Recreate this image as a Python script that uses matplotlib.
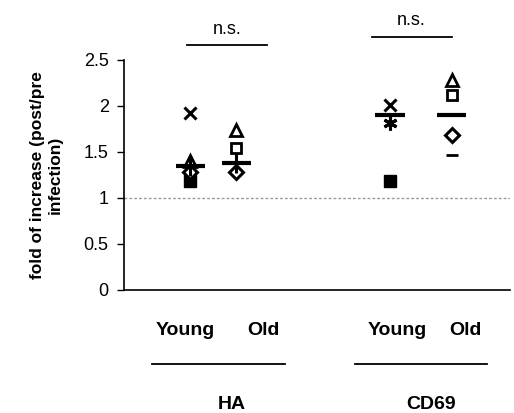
import matplotlib
matplotlib.use("Agg")
import matplotlib.pyplot as plt

plt.rcParams['font.family'] = ['Liberation Sans', 'DejaVu Sans']

# ---- data ----
groups = ["HA Young", "HA Old", "CD69 Young", "CD69 Old"]
group_x = [1.0, 1.6, 3.6, 4.4]
cross_vals = [1.92, None, 2.01, None]
triangle_vals = [1.40, 1.74, None, 2.28]
square_vals = [1.18, 1.54, 1.19, 2.12]
diamond_vals = [1.28, 1.28, None, 1.68]
plus_vals = [1.35, 1.38, None, None]
star_vals = [None, None, 1.81, None]
minus_vals = [None, None, None, 1.47]
mean_vals = [1.35, 1.38, 1.90, 1.90]
yticks = [0, 0.5, 1, 1.5, 2, 2.5]
ytick_labels = ["0", "0.5", "1", "1.5", "2", "2.5"]
sub_labels = ["Young", "Old", "Young", "Old"]
sub_label_x = [0.935, 1.95, 3.69, 4.58]
main_labels = ["HA", "CD69"]
main_label_x = [1.545, 4.13]
ylabel = "fold of increase (post/pre\ninfection)"

fig = plt.figure(figsize=(5.14, 4.13), dpi=100)
ax = fig.add_axes([124/514, 1-290/413, (510-124)/514, (290-60)/413])

ax.set_xlim(0.14, 5.16)
ax.set_ylim(0, 2.5)

# reference line at 1
ax.axhline(1.0, color='#9a9a9a', lw=1.0, ls=(0, (2, 1.5)), zorder=1)

def scatter(vals, marker, size, fill='none', mew=2.0):
    for x, v in zip(group_x, vals):
        if v is None:
            continue
        ax.plot([x], [v], marker=marker, ms=size, mfc=fill, mec='black',
                mew=mew, ls='none', zorder=3)

scatter(cross_vals, 'x', 8, mew=2.2)
scatter(triangle_vals, '^', 8, fill='white', mew=2.0)
scatter(square_vals, 's', 7, fill='white', mew=2.0)
# filled square for young groups
for i in (0, 2):
    ax.plot([group_x[i]], [square_vals[i]], marker='s', ms=8, mfc='black',
            mec='black', ls='none', zorder=3)
scatter(diamond_vals, 'D', 7, fill='white', mew=2.2)
scatter(plus_vals, '|', 14, mew=2.2)
scatter(star_vals, (6, 2, 0), 10, mew=2.2)
scatter(minus_vals, '_', 9, mew=2.0)

# mean lines
for x, m in zip(group_x, mean_vals):
    ax.plot([x - 0.19, x + 0.19], [m, m], color='black', lw=3.0, zorder=4,
            solid_capstyle='butt')

ax.set_yticks(yticks)
ax.set_yticklabels(ytick_labels, fontsize=13)
ax.set_xticks([])
ax.spines['top'].set_visible(False)
ax.spines['right'].set_visible(False)
ax.spines['left'].set_linewidth(1.2)
ax.spines['bottom'].set_linewidth(1.2)
ax.tick_params(axis='y', length=5, width=1.0, pad=6)

ax.set_ylabel(ylabel, fontsize=12.5, fontweight='bold', labelpad=15)

# sub labels
for x, lab in zip(sub_label_x, sub_labels):
    ax.text(x, -0.435, lab, ha='center', va='center',
            fontsize=14, fontweight='bold', clip_on=False)

# group lines and labels
for (x0, x1), lab, lx in zip([(0.51, 2.23), (3.14, 4.86)], main_labels, main_label_x):
    ax.plot([x0, x1], [-0.8, -0.8], color='black', lw=1.3, clip_on=False)
    ax.text(lx, -1.24, lab, ha='center', va='center',
            fontsize=14, fontweight='bold', clip_on=False)

# n.s. brackets
for (x0, x1, y, ty) in [(0.96, 2.0, 2.66, 2.83), (3.36, 4.40, 2.75, 2.93)]:
    ax.plot([x0, x1], [y, y], color='black', lw=1.3, clip_on=False)
    ax.text((x0 + x1) / 2, ty, "n.s.", ha='center', va='center',
            fontsize=13, clip_on=False)

fig.savefig("out.png", dpi=100)
